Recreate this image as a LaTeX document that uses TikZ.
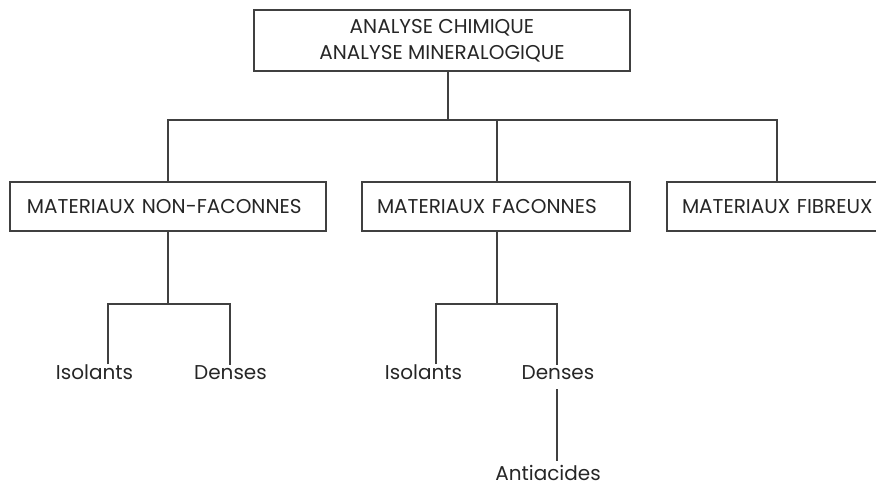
\documentclass[tikz,border=0pt]{standalone}
\usepackage{fontspec}
\setmainfont{Poppins}
\begin{document}
\begin{tikzpicture}[x=1pt,y=-1pt,
  line/.style={draw=black!75,line width=1.1pt},
  boxnode/.style={line,rectangle,inner ysep=0pt,font=\fontsize{20}{26}\selectfont,text=black!85},
  leaf/.style={inner sep=0pt,anchor=base,font=\fontsize{20}{24}\selectfont,text=black!85}]
\useasboundingbox (0,0) rectangle (876,489);
\node[boxnode,minimum width=376pt,minimum height=61pt,align=center] (top) at (442,40.5) {ANALYSE CHIMIQUE\\ANALYSE MINERALOGIQUE};
\node[boxnode,minimum width=316pt,minimum height=49pt,text width=282pt,inner xsep=17pt,align=left] (b1) at (168,206.5) {MATERIAUX NON-FACONNES};
\node[boxnode,minimum width=268pt,minimum height=49pt,text width=238pt,inner xsep=15pt,align=left] (b2) at (496,206.5) {MATERIAUX FACONNES};
\node[boxnode,minimum width=240pt,minimum height=49pt,text width=210pt,inner xsep=15pt,align=left] (b3) at (787,206.5) {MATERIAUX FIBREUX};
\node[leaf] (i1) at (94.5,379) {Isolants};
\node[leaf] (d1) at (230.5,379) {Denses};
\node[leaf] (i2) at (423.5,379) {Isolants};
\node[leaf] (d2) at (558,379) {Denses};
\node[leaf] (an) at (548,480) {Antiacides};
\coordinate (jt) at (448,120);
\coordinate (xl) at (168,0);
\coordinate (xr) at (777,0);
\coordinate (xm) at (497,0);
\coordinate (j1) at (168,304);
\coordinate (j2) at (497,304);
\coordinate (x1) at (108,0);
\coordinate (x2) at (230,0);
\coordinate (x3) at (436,0);
\coordinate (x4) at (557,0);
\draw[line] (top.south -| jt) -- (jt);
\draw[line] (b1.north -| xl) |- (jt) -| (b3.north -| xr);
\draw[line] (b2.north -| xm) -- (jt -| xm);
\draw[line] (b1.south -| xl) -- (j1);
\draw[line] (i1.north -| x1) |- (j1) -| (d1.north -| x2);
\draw[line] (b2.south -| xm) -- (j2);
\draw[line] (i2.north -| x3) |- (j2) -| (d2.north -| x4);
\draw[line] ([yshift=-10pt]d2.south -| x4) -- ([yshift=4pt]an.north -| x4);
\end{tikzpicture}
\end{document}
